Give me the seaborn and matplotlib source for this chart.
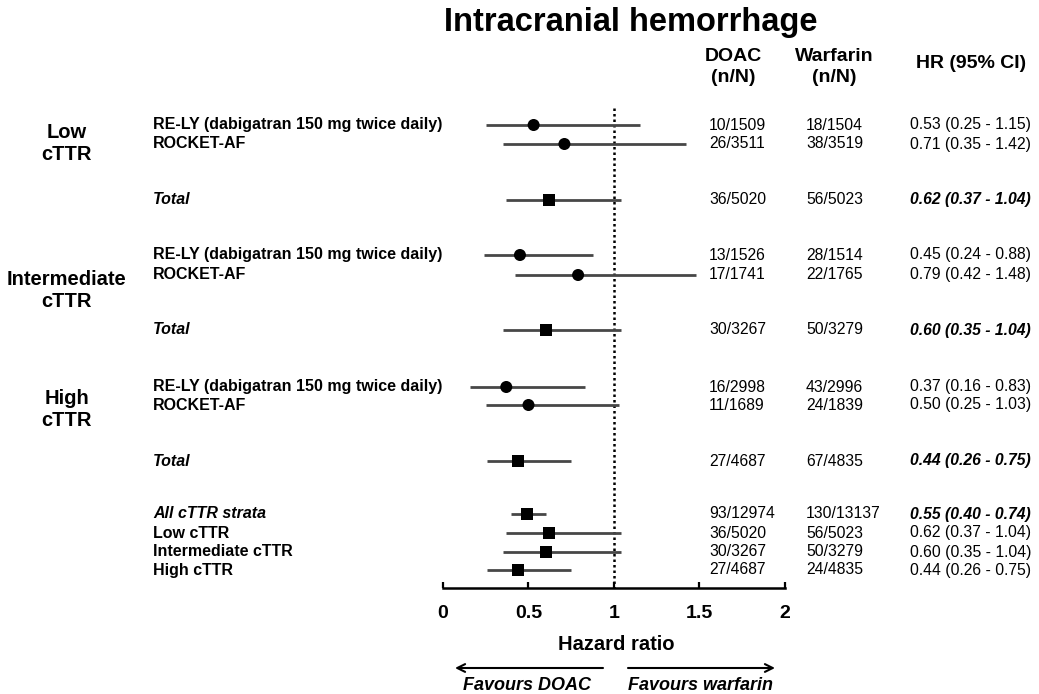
import pandas as pd
import matplotlib
matplotlib.use('Agg')
import matplotlib.pyplot as plt
import seaborn as sns

# rows of the forest plot, top to bottom
labels = ['RE-LY (dabigatran 150 mg twice daily)', 'ROCKET-AF', 'Total',
          'RE-LY (dabigatran 150 mg twice daily)', 'ROCKET-AF', 'Total',
          'RE-LY (dabigatran 150 mg twice daily)', 'ROCKET-AF', 'Total',
          'All cTTR strata', 'Low cTTR', 'Intermediate cTTR', 'High cTTR']
kinds = ['study', 'study', 'total', 'study', 'study', 'total',
         'study', 'study', 'total', 'total', 'total', 'total', 'total']
italic_rows = [False, False, True, False, False, True,
               False, False, True, True, False, False, False]

# hazard ratios as drawn
hr = [0.53, 0.71, 0.62, 0.45, 0.79, 0.60, 0.37, 0.50, 0.44, 0.49, 0.62, 0.60, 0.44]
lo = [0.25, 0.35, 0.37, 0.24, 0.42, 0.35, 0.16, 0.25, 0.26, 0.40, 0.37, 0.35, 0.26]
hi = [1.15, 1.42, 1.04, 0.88, 1.48, 1.04, 0.83, 1.03, 0.75, 0.60, 1.04, 1.04, 0.75]

doac = ['10/1509', '26/3511', '36/5020', '13/1526', '17/1741', '30/3267',
        '16/2998', '11/1689', '27/4687', '93/12974', '36/5020', '30/3267', '27/4687']
warfarin = ['18/1504', '38/3519', '56/5023', '28/1514', '22/1765', '50/3279',
            '43/2996', '24/1839', '67/4835', '130/13137', '56/5023', '50/3279', '24/4835']
hr_text = ['0.53 (0.25 - 1.15)', '0.71 (0.35 - 1.42)', '0.62 (0.37 - 1.04)',
           '0.45 (0.24 - 0.88)', '0.79 (0.42 - 1.48)', '0.60 (0.35 - 1.04)',
           '0.37 (0.16 - 0.83)', '0.50 (0.25 - 1.03)', '0.44 (0.26 - 0.75)',
           '0.55 (0.40 - 0.74)', '0.62 (0.37 - 1.04)', '0.60 (0.35 - 1.04)',
           '0.44 (0.26 - 0.75)']
hr_bold_italic = [False, False, True, False, False, True,
                  False, False, True, True, False, False, False]

groups = ['Low\ncTTR', 'Intermediate\ncTTR', 'High\ncTTR']
ticks = [0, 0.5, 1, 1.5, 2]

# layout (pixels)
W, H = 1039, 694
row_y = [125, 144, 200, 255, 275, 330, 387, 405, 461, 514, 533, 552, 570]
group_y = [144, 291, 410]
axis_y = 588
x0_px, px_per_unit = 443, 171

df = pd.DataFrame({'label': labels, 'kind': kinds, 'hr': hr, 'lo': lo,
                   'hi': hi, 'row': row_y})

sns.set_theme(style='white')
plt.rcParams['font.family'] = ['Liberation Sans', 'DejaVu Sans']
plt.rcParams['text.color'] = 'black'
plt.rcParams['xtick.color'] = 'black'
plt.rcParams['xtick.labelcolor'] = 'black'

fig = plt.figure(figsize=(W / 100, H / 100), dpi=100)
ax = fig.add_axes([0, 0, 1, 1])
ax.set_xlim(-x0_px / px_per_unit, (W - x0_px) / px_per_unit)
ax.set_ylim(H, 0)
ax.set_facecolor('none')


def fx(px):
    return px / W


def fy(py):
    return 1 - py / H


# CI lines and point estimates
ax.hlines(df['row'], df['lo'], df['hi'], color='#474747', lw=2.0, zorder=2)
sns.scatterplot(data=df, x='hr', y='row', style='kind',
                markers={'study': 'o', 'total': 's'}, s=75, color='black',
                edgecolor='black', linewidth=0, legend=False, zorder=3, ax=ax)

# line of no effect
ax.vlines(1, 108, axis_y, colors='black', lw=1.8, linestyles=(0, (1, 1.2)), zorder=1)

# x axis
for side in ['left', 'right', 'top']:
    ax.spines[side].set_visible(False)
ax.spines['bottom'].set_position(('data', axis_y))
ax.spines['bottom'].set_bounds(0, 2)
ax.spines['bottom'].set_color('black')
ax.spines['bottom'].set_linewidth(1.8)
ax.set_xticks(ticks)
ax.set_xticklabels(['0', '0.5', '1', '1.5', '2'])
ax.set_yticks([])
ax.tick_params(axis='x', direction='in', length=4, width=1.6, color='black',
               labelcolor='black', labelsize=14, pad=12, bottom=True)
for t in ax.get_xticklabels():
    t.set_fontweight('bold')
ax.set_xlabel('')
ax.set_ylabel('')
ax.grid(False)

# title and headers
fig.text(fx(631), fy(23), 'Intracranial hemorrhage', ha='center', va='center',
         fontsize=23.5, weight='bold')
fig.text(fx(733), fy(67), 'DOAC\n(n/N)', ha='center', va='center',
         fontsize=14, weight='bold', linespacing=1.25)
fig.text(fx(834), fy(67), 'Warfarin\n(n/N)', ha='center', va='center',
         fontsize=14, weight='bold', linespacing=1.25)
fig.text(fx(971), fy(63), 'HR (95% CI)', ha='center', va='center',
         fontsize=14, weight='bold')

# group labels
for g, gy in zip(groups, group_y):
    fig.text(fx(67), fy(gy), g, ha='center', va='center', fontsize=14.5,
             weight='bold', linespacing=1.2)

# row texts
for i, y in enumerate(row_y):
    fig.text(fx(153), fy(y), labels[i], ha='left', va='center', fontsize=11.5,
             weight='bold', style='italic' if italic_rows[i] else 'normal')
    fig.text(fx(709), fy(y), doac[i], ha='left', va='center', fontsize=11.3)
    fig.text(fx(806), fy(y), warfarin[i], ha='left', va='center', fontsize=11.3)
    if hr_bold_italic[i]:
        fig.text(fx(910), fy(y), hr_text[i], ha='left', va='center',
                 fontsize=11.3, weight='bold', style='italic')
    else:
        fig.text(fx(910), fy(y), hr_text[i], ha='left', va='center', fontsize=11.3)

# axis caption and direction arrows
fig.text(fx(616), fy(645), 'Hazard ratio', ha='center', va='center',
         fontsize=14.5, weight='bold')
ax.annotate('', xy=(fx(455), fy(668)), xytext=(fx(603), fy(668)),
            xycoords='figure fraction', textcoords='figure fraction',
            arrowprops=dict(arrowstyle='->', lw=1.5, color='black',
                            shrinkA=0, shrinkB=0, mutation_scale=14))
ax.annotate('', xy=(fx(775), fy(668)), xytext=(fx(628), fy(668)),
            xycoords='figure fraction', textcoords='figure fraction',
            arrowprops=dict(arrowstyle='->', lw=1.5, color='black',
                            shrinkA=0, shrinkB=0, mutation_scale=14))
fig.text(fx(527), fy(685), 'Favours DOAC', ha='center', va='center',
         fontsize=13, weight='bold', style='italic')
fig.text(fx(701), fy(685), 'Favours warfarin', ha='center', va='center',
         fontsize=13, weight='bold', style='italic')

fig.savefig('out.png', dpi=100)
